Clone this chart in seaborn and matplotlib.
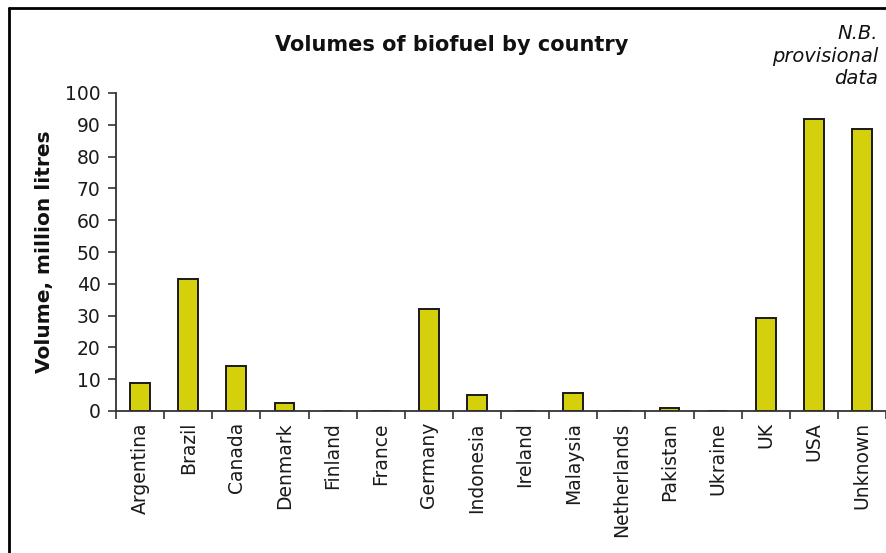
import matplotlib
matplotlib.use("Agg")
import matplotlib.pyplot as plt
from matplotlib.lines import Line2D
import seaborn as sns
import pandas as pd

countries = ["Argentina", "Brazil", "Canada", "Denmark", "Finland", "France",
             "Germany", "Indonesia", "Ireland", "Malaysia", "Netherlands",
             "Pakistan", "Ukraine", "UK", "USA", "Unknown"]
volumes = [8.9, 41.4, 14.2, 2.6, 0, 0, 32.2, 4.9, 0, 5.8, 0, 1.1, 0, 29.2, 91.9, 88.6]
y_ticks = [0, 10, 20, 30, 40, 50, 60, 70, 80, 90, 100]

df = pd.DataFrame({"country": countries, "volume": volumes})

sns.set_theme(style="white")
plt.rcParams["font.family"] = ["DejaVu Sans"]

fig = plt.figure(figsize=(8.86, 5.53), dpi=100)
ax = fig.add_axes([116 / 886, 1 - 411 / 553, 770 / 886, (411 - 93) / 553])

sns.barplot(data=df, x="country", y="volume", ax=ax, color="#D4D00C",
            saturation=1, width=0.41, edgecolor="#1a1a1a", linewidth=1.4)

ax.set_xlim(-0.5, len(countries) - 0.5)
ax.set_ylim(0, 100)
ax.set_yticks(y_ticks)
ax.set_yticklabels([str(t) for t in y_ticks])

# category labels sit at the centres, ticks at the boundaries
ax.set_xticks(range(len(countries)))
ax.set_xticklabels(countries, rotation=90)
ax.tick_params(axis="x", which="major", length=0, pad=8)
ax.set_xticks([i - 0.5 for i in range(len(countries) + 1)], minor=True)
ax.tick_params(axis="x", which="minor", length=6, width=1.2, color="#333333",
               direction="out", bottom=True)
ax.tick_params(axis="y", length=6, width=1.2, color="#333333", direction="out",
               left=True, pad=5)

for lab in ax.get_xticklabels() + ax.get_yticklabels():
    lab.set_fontsize(13.5)
    lab.set_color("#1a1a1a")

for side in ["top", "right"]:
    ax.spines[side].set_visible(False)
for side in ["left", "bottom"]:
    ax.spines[side].set_color("#333333")
    ax.spines[side].set_linewidth(1.3)

ax.set_xlabel("")
ax.set_ylabel("Volume, million litres", fontsize=14.5, fontweight="bold",
              color="#111111", labelpad=8)

fig.text(452 / 886, 1 - 45 / 553, "Volumes of biofuel by country",
         ha="center", va="center", fontsize=15, fontweight="bold", color="#111111")
fig.text(878 / 886, 1 - 56 / 553, "N.B.\nprovisional\ndata", ha="right",
         va="center", fontsize=14, fontstyle="italic", color="#111111",
         linespacing=1.25)

# outer frame
fig.add_artist(Line2D([9 / 886, 1.0], [1 - 8 / 553, 1 - 8 / 553],
                      transform=fig.transFigure, color="black", linewidth=2))
fig.add_artist(Line2D([9 / 886, 9 / 886], [0.0, 1 - 8 / 553],
                      transform=fig.transFigure, color="black", linewidth=2))

fig.savefig("out.png", dpi=100, facecolor="white")
